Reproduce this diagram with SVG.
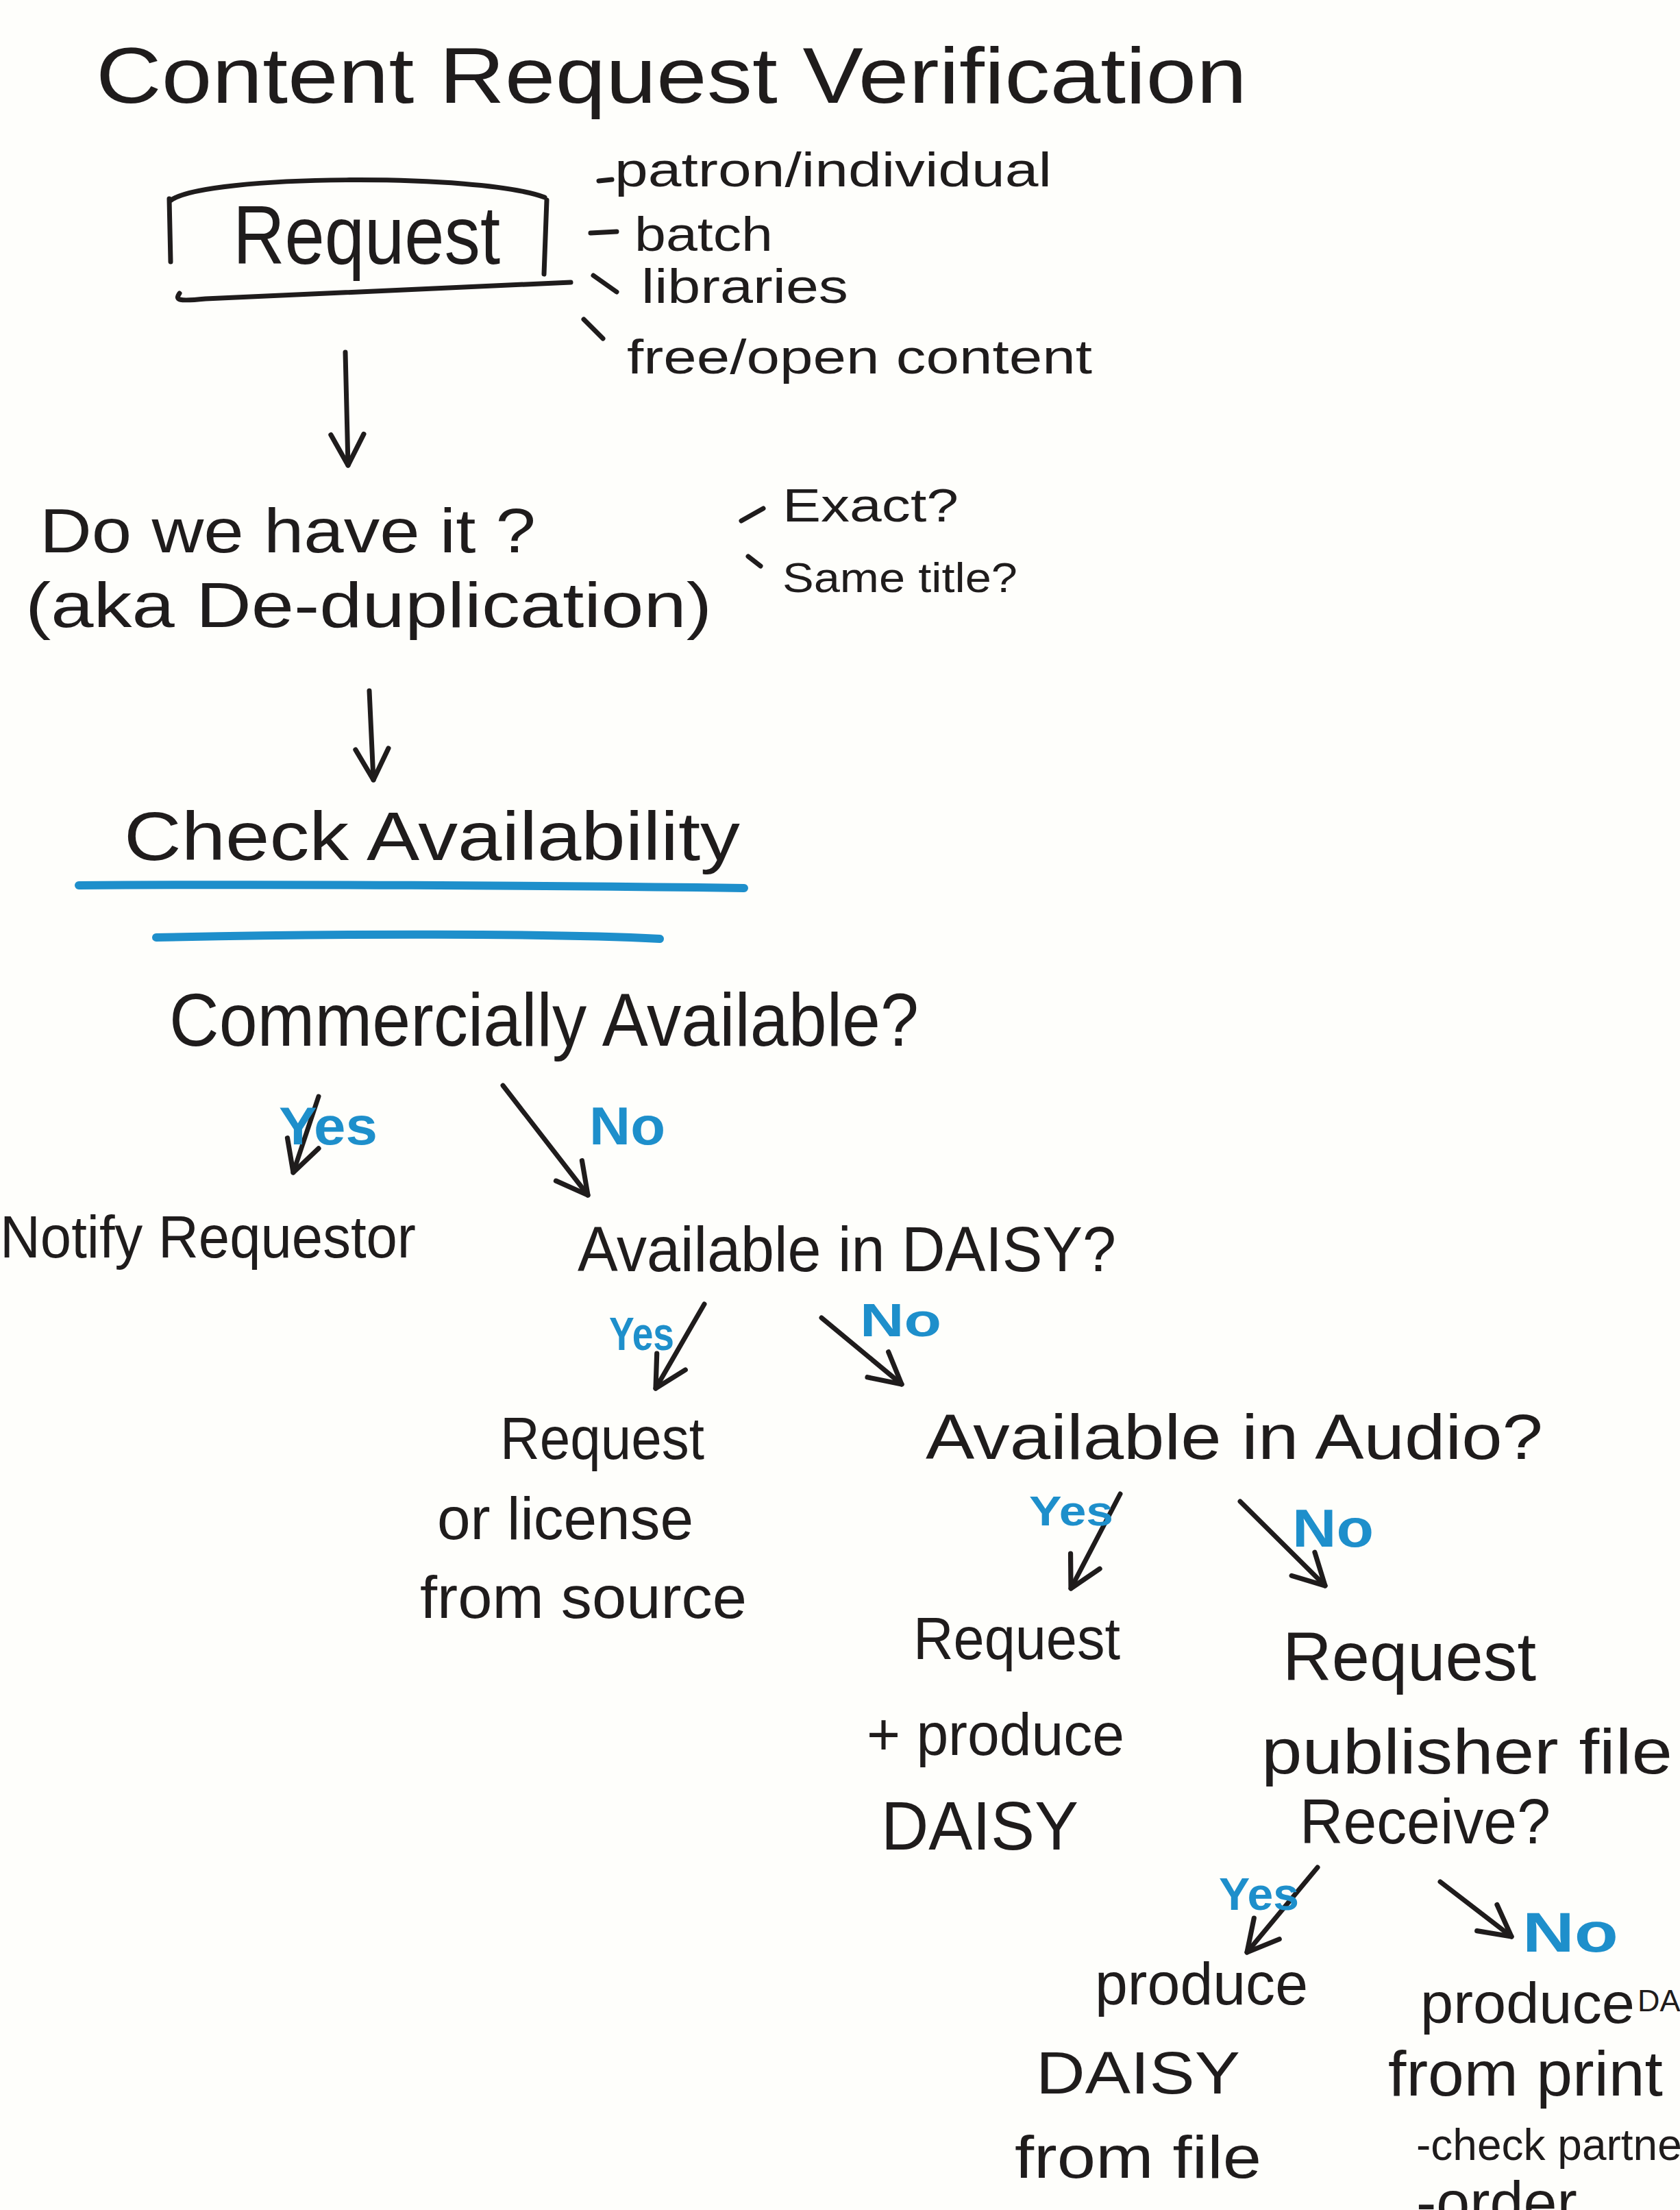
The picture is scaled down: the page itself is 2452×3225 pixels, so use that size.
<svg xmlns="http://www.w3.org/2000/svg" width="2452" height="3225" viewBox="0 0 2452 3225">
<style>
.t{font-family:"Liberation Sans Narrow","Liberation Sans",Arial,sans-serif;fill:#1f1c1c}
.b{font-family:"Liberation Sans",Arial,sans-serif;font-weight:bold;fill:#1e8fcb}
.ln{fill:none;stroke:#1f1c1c;stroke-width:7;stroke-linecap:round;stroke-linejoin:round}
.bl{fill:none;stroke:#1e8fcb;stroke-width:12;stroke-linecap:round}
</style>
<defs>
<marker id="ah" viewBox="0 0 20 20" refX="18" refY="10" orient="auto" markerUnits="userSpaceOnUse" markerWidth="60" markerHeight="60">
<path d="M3,2 L18,10 L3,18" fill="none" stroke="#1f1c1c" stroke-width="2.4" stroke-linecap="round" stroke-linejoin="round"/>
</marker>
</defs>
<rect width="2452" height="3225" fill="#fefefb"/>

<g id="title">
<text class="t" x="140" y="150" font-size="115" textLength="1680" lengthAdjust="spacingAndGlyphs">Content Request Verification</text>
</g>

<g id="request">
<path class="ln" d="M250,292 C300,255 700,252 795,288"/>
<path class="ln" d="M247,290 L249,382"/>
<path class="ln" d="M798,292 L794,400"/>
<path class="ln" d="M262,428 C255,438 260,440 300,436 L833,412"/>
<text class="t" x="340" y="385" font-size="120" textLength="390" lengthAdjust="spacingAndGlyphs">Request</text>
</g>

<g id="request-types">
<path class="ln" d="M874,264 L893,262"/>
<path class="ln" d="M862,340 L900,338"/>
<path class="ln" d="M866,402 L900,426"/>
<path class="ln" d="M852,466 L880,494"/>
<text class="t" x="897" y="272" font-size="70" textLength="638" lengthAdjust="spacingAndGlyphs">patron/individual</text>
<text class="t" x="926" y="366" font-size="70" textLength="202" lengthAdjust="spacingAndGlyphs">batch</text>
<text class="t" x="936" y="442" font-size="70" textLength="302" lengthAdjust="spacingAndGlyphs">libraries</text>
<text class="t" x="915" y="545" font-size="70" textLength="679" lengthAdjust="spacingAndGlyphs">free/open content</text>
</g>

<g id="dedup">
<text class="t" x="58" y="806" font-size="90" textLength="724" lengthAdjust="spacingAndGlyphs">Do we have it ?</text>
<text class="t" x="37" y="915" font-size="92" textLength="1002" lengthAdjust="spacingAndGlyphs">(aka De-duplication)</text>
</g>

<g id="dedup-types">
<path class="ln" d="M1082,760 L1114,742"/>
<path class="ln" d="M1092,812 L1110,826"/>
<text class="t" x="1142" y="761" font-size="68" textLength="257" lengthAdjust="spacingAndGlyphs">Exact?</text>
<text class="t" x="1142" y="864" font-size="62" textLength="343" lengthAdjust="spacingAndGlyphs">Same title?</text>
</g>

<g id="check-availability">
<text class="t" x="181" y="1255" font-size="100" textLength="899" lengthAdjust="spacingAndGlyphs">Check Availability</text>
<path class="bl" d="M115,1292 C400,1290 800,1292 1086,1296"/>
<path class="bl" d="M228,1368 C500,1362 800,1362 963,1370"/>
</g>

<g id="commercially">
<text class="t" x="247" y="1526" font-size="110" textLength="1094" lengthAdjust="spacingAndGlyphs">Commercially Available?</text>
</g>

<g id="notify">
<text class="t" x="0" y="1835" font-size="88" textLength="607" lengthAdjust="spacingAndGlyphs">Notify Requestor</text>
</g>

<g id="daisy">
<text class="t" x="843" y="1855" font-size="92" textLength="786" lengthAdjust="spacingAndGlyphs">Available in DAISY?</text>
</g>

<g id="license">
<text class="t" x="730" y="2129" font-size="88" textLength="298" lengthAdjust="spacingAndGlyphs">Request</text>
<text class="t" x="638" y="2246" font-size="88" textLength="374" lengthAdjust="spacingAndGlyphs">or license</text>
<text class="t" x="613" y="2361" font-size="88" textLength="477" lengthAdjust="spacingAndGlyphs">from source</text>
</g>

<g id="audio">
<text class="t" x="1351" y="2129" font-size="92" textLength="901" lengthAdjust="spacingAndGlyphs">Available in Audio?</text>
</g>

<g id="produce-daisy">
<text class="t" x="1333" y="2421" font-size="88" textLength="302" lengthAdjust="spacingAndGlyphs">Request</text>
<text class="t" x="1265" y="2561" font-size="88" textLength="376" lengthAdjust="spacingAndGlyphs">+ produce</text>
<text class="t" x="1286" y="2699" font-size="100" textLength="288" lengthAdjust="spacingAndGlyphs">DAISY</text>
</g>

<g id="publisher-file">
<text class="t" x="1872" y="2452" font-size="100" textLength="370" lengthAdjust="spacingAndGlyphs">Request</text>
<text class="t" x="1841" y="2588" font-size="92" textLength="600" lengthAdjust="spacingAndGlyphs">publisher file</text>
<text class="t" x="1897" y="2690" font-size="92" textLength="366" lengthAdjust="spacingAndGlyphs">Receive?</text>
</g>

<g id="from-file">
<text class="t" x="1598" y="2925" font-size="88" textLength="311" lengthAdjust="spacingAndGlyphs">produce</text>
<text class="t" x="1512" y="3055" font-size="88" textLength="298" lengthAdjust="spacingAndGlyphs">DAISY</text>
<text class="t" x="1481" y="3178" font-size="88" textLength="360" lengthAdjust="spacingAndGlyphs">from file</text>
</g>

<g id="from-print">
<text class="t" x="2073" y="2952" font-size="84" textLength="313" lengthAdjust="spacingAndGlyphs">produce</text>
<text class="t" x="2390" y="2935" font-size="45">DAISY</text>
<text class="t" x="2026" y="3058" font-size="92" textLength="401" lengthAdjust="spacingAndGlyphs">from print</text>
<text class="t" x="2067" y="3152" font-size="64">-check partner</text>
<text class="t" x="2067" y="3244" font-size="88">-order</text>
</g>

<g id="connectors">
<path class="ln" d="M504,514 L508,679" marker-end="url(#ah)"/>
<path class="ln" d="M539,1008 L545,1138" marker-end="url(#ah)"/>
<path class="ln" d="M465,1600 L428,1711" marker-end="url(#ah)"/>
<path class="ln" d="M734,1584 L858,1744" marker-end="url(#ah)"/>
<path class="ln" d="M1028,1903 L957,2026" marker-end="url(#ah)"/>
<path class="ln" d="M1199,1923 L1316,2020" marker-end="url(#ah)"/>
<path class="ln" d="M1635,2180 L1563,2318" marker-end="url(#ah)"/>
<path class="ln" d="M1810,2191 L1934,2314" marker-end="url(#ah)"/>
<path class="ln" d="M1923,2725 L1820,2849" marker-end="url(#ah)"/>
<path class="ln" d="M2102,2746 L2206,2826" marker-end="url(#ah)"/>
</g>

<g id="labels">
<text class="b" x="407" y="1670" font-size="78" textLength="144" lengthAdjust="spacingAndGlyphs">Yes</text>
<text class="b" x="860" y="1670" font-size="78" textLength="111" lengthAdjust="spacingAndGlyphs">No</text>
<text class="b" x="889" y="1970" font-size="68" textLength="95" lengthAdjust="spacingAndGlyphs">Yes</text>
<text class="b" x="1255" y="1950" font-size="68" textLength="119" lengthAdjust="spacingAndGlyphs">No</text>
<text class="b" x="1502" y="2226" font-size="62" textLength="123" lengthAdjust="spacingAndGlyphs">Yes</text>
<text class="b" x="1886" y="2257" font-size="78" textLength="119" lengthAdjust="spacingAndGlyphs">No</text>
<text class="b" x="1779" y="2787" font-size="66" textLength="117" lengthAdjust="spacingAndGlyphs">Yes</text>
<text class="b" x="2222" y="2848" font-size="82" textLength="140" lengthAdjust="spacingAndGlyphs">No</text>
</g>
</svg>
